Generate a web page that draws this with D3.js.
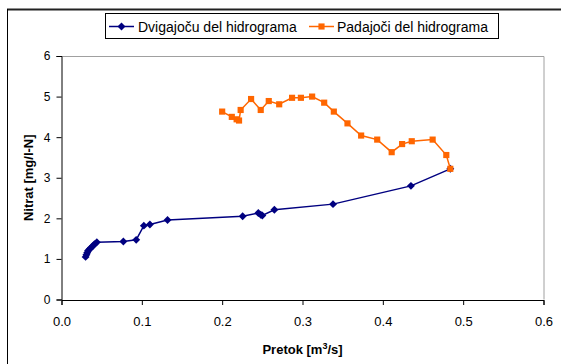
<!DOCTYPE html>
<html><head><meta charset="utf-8">
<script src="https://cdn.jsdelivr.net/npm/d3@7"></script>
<style>body{margin:0;background:#fff}svg{display:block}</style>
</head><body>
<svg id="c" width="561" height="364"></svg>
<script>
const seriesNames = ["Dvigajoču del hidrograma", "Padajoči del hidrograma"];
const risingX = [0.030,0.031,0.032,0.033,0.035,0.037,0.039,0.041,0.044,0.077,0.093,0.1025,0.110,0.132,0.2255,0.245,0.248,0.250,0.265,0.338,0.435,0.484];
const risingY = [1.05,1.10,1.15,1.20,1.24,1.28,1.32,1.36,1.41,1.43,1.47,1.82,1.85,1.96,2.05,2.13,2.09,2.07,2.21,2.35,2.80,3.22];
const fallingX = [0.484,0.479,0.462,0.436,0.424,0.411,0.393,0.373,0.356,0.339,0.327,0.312,0.298,0.287,0.271,0.258,0.248,0.236,0.223,0.221,0.218,0.212,0.200];
const fallingY = [3.22,3.56,3.94,3.90,3.83,3.63,3.94,4.04,4.34,4.63,4.85,5.00,4.97,4.97,4.81,4.89,4.67,4.94,4.67,4.41,4.44,4.50,4.63];
const xTicks = [0,0.1,0.2,0.3,0.4,0.5,0.6];
const yTicks = [0,1,2,3,4,5,6];
const xTitle = "Pretok [m";
const yTitle = "Nitrat [mg/l-N]";

const svg = d3.select("#c");
const F = "Liberation Sans, Arial, sans-serif";
const L = 61.5, R = 543.5, T = 56, B = 299.5;
const x = d3.scaleLinear().domain([0,0.6]).range([L,R]);
const y = d3.scaleLinear().domain([0,6]).range([B,T]);

// outer frame
svg.append("line").attr("x1",7).attr("x2",561).attr("y1",9.5).attr("y2",9.5).attr("stroke","#222").attr("stroke-width",2);
svg.append("line").attr("x1",7.5).attr("x2",7.5).attr("y1",9).attr("y2",364).attr("stroke","#000").attr("stroke-width",1);

// plot border top/right
svg.append("path").attr("d",`M${L},${T+0.5}H${R+0.5}V${B}`).attr("fill","none").attr("stroke","#a0a0a0").attr("stroke-width",1);

// axes
const xa = svg.append("g").attr("transform",`translate(0,${B+0.5})`)
  .call(d3.axisBottom(x).tickValues(xTicks).tickFormat(d3.format(".1f")).tickSize(5).tickPadding(12));
const ya = svg.append("g").attr("transform",`translate(${L},0)`)
  .call(d3.axisLeft(y).tickValues(yTicks).tickFormat(d3.format("d")).tickSize(5).tickPadding(6));
[xa,ya].forEach(a=>{
  a.select(".domain").attr("stroke","#000");
  a.selectAll(".tick line").attr("stroke","#000");
  a.selectAll("text").attr("font-family",F).attr("font-size",13).attr("fill","#000");
});
ya.selectAll("text").attr("font-size",12);

// titles
const xt = svg.append("text").attr("x",(L+R)/2).attr("y",354).attr("text-anchor","middle")
  .attr("font-family",F).attr("font-size",13).attr("font-weight","bold");
xt.append("tspan").text(xTitle);
xt.append("tspan").attr("dy",-5).attr("font-size",9).text("3");
xt.append("tspan").attr("dy",5).text("/s]");
svg.append("text").attr("transform",`translate(33,${(T+B)/2}) rotate(-90)`).attr("text-anchor","middle")
  .attr("font-family",F).attr("font-size",13).attr("font-weight","bold").text(yTitle);

const line = d3.line().x(d=>x(d[0])).y(d=>y(d[1]));
const rising = risingX.map((v,i)=>[v,risingY[i]]);
const falling = fallingX.map((v,i)=>[v,fallingY[i]]);
const blue = "#000080", orange = "#FF6600";
const diamond = d3.symbol().type(d3.symbolDiamond2).size(40);
const square = d3.symbol().type(d3.symbolSquare).size(38);

svg.append("path").attr("d",line(rising)).attr("fill","none").attr("stroke",blue).attr("stroke-width",1.5);
svg.selectAll(".rp").data(rising).enter().append("path").attr("d",diamond)
  .attr("transform",d=>`translate(${x(d[0])},${y(d[1])})`).attr("fill",blue);
svg.append("path").attr("d",line(falling)).attr("fill","none").attr("stroke",orange).attr("stroke-width",1.5);
svg.selectAll(".fp").data(falling).enter().append("path").attr("d",square)
  .attr("transform",d=>`translate(${x(d[0])},${y(d[1])})`).attr("fill",orange);

// legend
svg.append("rect").attr("x",105.5).attr("y",13.5).attr("width",393).attr("height",25).attr("fill","#fff").attr("stroke","#000");
const items = [{n:seriesNames[0],c:blue,s:diamond,x0:109,tx:138},{n:seriesNames[1],c:orange,s:square,x0:309,tx:337}];
items.forEach(it=>{
  svg.append("line").attr("x1",it.x0).attr("x2",it.x0+25).attr("y1",26.5).attr("y2",26.5).attr("stroke",it.c).attr("stroke-width",1.5);
  svg.append("path").attr("d",it.s).attr("transform",`translate(${it.x0+12.5},26.5)`).attr("fill",it.c);
  svg.append("text").attr("x",it.tx).attr("y",31.5).attr("font-family",F).attr("font-size",14).text(it.n);
});
</script>
</body></html>
